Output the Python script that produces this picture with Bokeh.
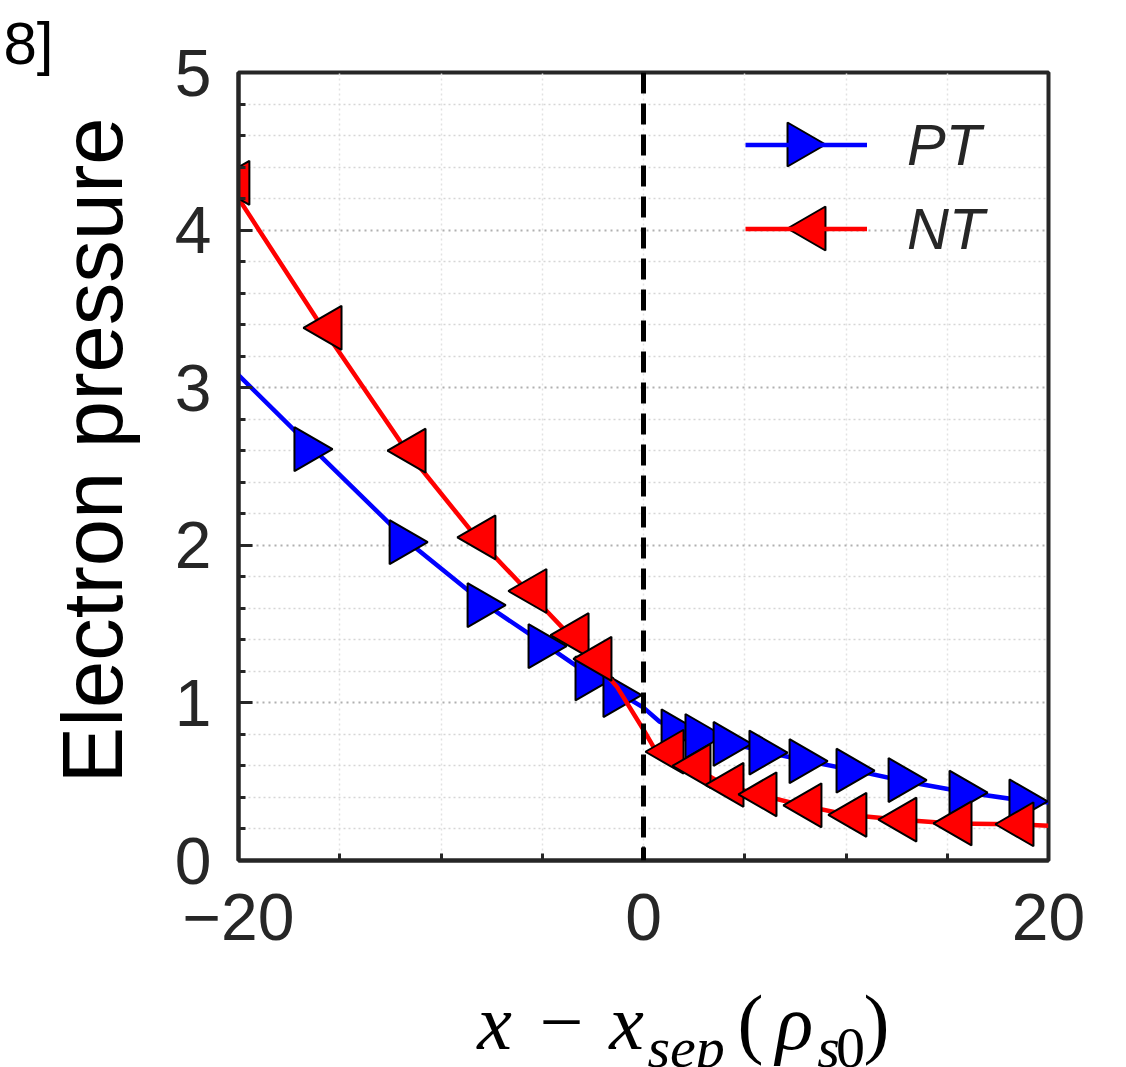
from math import pi
from bokeh.plotting import figure
from bokeh.layouts import column, row
from bokeh.models import (Range1d, FixedTicker, Span, Label, Legend, LegendItem,
                          ColumnDataSource, Title)
from bokeh.transform import dodge
from bokeh.embed import file_html
from bokeh.resources import INLINE

# ---------------- data ----------------
pt_line_x = [-20, -16.3, -11.6, -7.75, -4.74, -2.42, -1.04, 0, 0.8, 1.83, 3.01, 4.40,
             6.17, 8.15, 10.47, 13.04, 16.05, 19.01, 20]
pt_line_y = [3.08, 2.61, 2.02, 1.62, 1.36, 1.155, 1.05, 0.97, 0.88, 0.82, 0.79, 0.74,
             0.685, 0.63, 0.57, 0.50, 0.43, 0.375, 0.37]
pt_mark_x = [-16.3, -11.6, -7.75, -4.74, -2.42, -1.04, 1.83, 3.01, 4.40, 6.17, 8.15,
             10.47, 13.04, 16.05, 19.01]
pt_mark_y = [2.61, 2.02, 1.62, 1.36, 1.155, 1.05, 0.82, 0.79, 0.74, 0.685, 0.63,
             0.57, 0.51, 0.43, 0.375]

nt_line_x = [-20.4, -15.85, -11.7, -8.25, -5.73, -3.65, -2.52, -1.3, 0, 0.5, 1.04, 2.37,
             4.0, 5.63, 7.85, 10.07, 12.54, 15.26, 18.32, 20]
nt_line_y = [4.28, 3.38, 2.60, 2.05, 1.71, 1.43, 1.28, 1.10, 0.83, 0.72, 0.69, 0.60,
             0.48, 0.42, 0.35, 0.29, 0.26, 0.235, 0.23, 0.22]
nt_mark_x = [-20.4, -15.85, -11.7, -8.25, -5.73, -3.65, -2.52, 1.04, 2.37, 4.0, 5.63,
             7.85, 10.07, 12.54, 15.26, 18.32]
nt_mark_y = [4.30, 3.38, 2.60, 2.05, 1.71, 1.43, 1.28, 0.69, 0.60, 0.48, 0.42,
             0.35, 0.29, 0.26, 0.235, 0.23]

series_names = ["PT", "NT"]
x_major = [-20, 0, 20]
x_minor = [-15, -10, -5, 5, 10, 15]
x_labels = {-20: "\u221220", 0: "0", 20: "20"}
y_major = [0, 1, 2, 3, 4, 5]
y_minor = [0.2, 0.4, 0.6, 0.8, 1.2, 1.4, 1.6, 1.8, 2.2, 2.4, 2.6, 2.8,
           3.2, 3.4, 3.6, 3.8, 4.2, 4.4, 4.6, 4.8]
y_title = "Electron pressure"
corner_text = "8]"

# ---------------- layout (pixels of the 1126x1067 page) ----------------
W, H = 1126, 1067
LEFT_W = 150
MAIN_H = 980
L, R, T, B = 238, 1048, 72, 860
XMIN, XMAX, YMIN, YMAX = -20, 20, 0, 5
MID_SANS = 0.41    # em from a "middle" anchor down to the baseline (sans)
MID_SERIF = 0.29   # same for the serif face


def dx(px):
    return XMIN + (px - L) / (R - L) * (XMAX - XMIN)


def dy(py):
    return YMIN + (B - py) / (B - T) * (YMAX - YMIN)


p = figure(width=W - LEFT_W, height=MAIN_H, x_range=Range1d(XMIN, XMAX),
           y_range=Range1d(YMIN, YMAX), output_backend="svg", toolbar_location=None,
           min_border_left=L - LEFT_W, min_border_right=W - R, min_border_top=T,
           min_border_bottom=MAIN_H - B)
p.background_fill_color = "white"
p.border_fill_color = "white"
p.outline_line_color = "#262626"
p.outline_line_width = 4

AX = "#262626"
for ax in (p.xaxis[0], p.yaxis[0]):
    ax.axis_line_color = AX
    ax.axis_line_width = 4
    ax.major_tick_line_color = AX
    ax.minor_tick_line_color = AX
    ax.major_tick_line_width = 3
    ax.minor_tick_line_width = 3
    ax.major_tick_out = 0
    ax.minor_tick_out = 0
    ax.major_label_text_font = "Liberation Sans"
    ax.major_label_text_font_size = "66px"
    ax.major_label_text_color = AX

p.xaxis.ticker = FixedTicker(ticks=x_major, minor_ticks=x_minor)
p.xaxis.major_label_overrides = x_labels
p.xaxis.major_tick_in = 14
p.xaxis.minor_tick_in = 7
p.xaxis.major_label_standoff = 33

p.yaxis.ticker = FixedTicker(ticks=y_major, minor_ticks=y_minor)
p.yaxis.major_tick_in = 14
p.yaxis.minor_tick_in = 7
p.yaxis.major_label_standoff = 27

p.xgrid.grid_line_color = "#e2e2e2"
p.xgrid.grid_line_width = 1.5
p.xgrid.grid_line_dash = "2 3"
p.xgrid.minor_grid_line_color = "#e2e2e2"
p.xgrid.minor_grid_line_width = 1.5
p.xgrid.minor_grid_line_dash = "2 3"
p.ygrid.grid_line_color = "#b0b0b0"
p.ygrid.grid_line_width = 2
p.ygrid.grid_line_dash = "2 4"
p.ygrid.minor_grid_line_color = "#d6d6d6"
p.ygrid.minor_grid_line_width = 1.5
p.ygrid.minor_grid_line_dash = "2 3"

# ---------------- series ----------------
MS = 44
SHIFT = 0.31   # centres the equilateral triangle's box on its point
LW = 4.5
BLUE, RED = "#0000ff", "#ff0000"

r_pt_line = p.line(pt_line_x, pt_line_y, line_color=BLUE, line_width=LW)
p.scatter(x=dodge("x", -SHIFT), y="y",
          source=ColumnDataSource(dict(x=pt_mark_x, y=pt_mark_y)),
          marker="triangle", size=MS, angle=-pi / 2,
          fill_color=BLUE, line_color="black", line_width=2)
r_nt_line = p.line(nt_line_x, nt_line_y, line_color=RED, line_width=LW)
p.scatter(x=dodge("x", SHIFT), y="y",
          source=ColumnDataSource(dict(x=nt_mark_x, y=nt_mark_y)),
          marker="triangle", size=MS, angle=pi / 2,
          fill_color=RED, line_color="black", line_width=2)

p.add_layout(Span(location=0, dimension="height", line_color="black",
                  line_width=5, line_dash="21 10"))

# ---------------- legend ----------------
GH = 105
KEY_CX = 806
rows = [(series_names[0], r_pt_line, 144, BLUE, -pi / 2, -SHIFT),
        (series_names[1], r_nt_line, 228, RED, pi / 2, SHIFT)]
for label, rend, cy, col, ang, sh in rows:
    lg = Legend(items=[LegendItem(label=label, renderers=[rend])],
                location=(745 - L, B - (cy + GH / 2)),
                glyph_width=122, glyph_height=GH, padding=0, margin=0, spacing=0,
                border_line_color=None, background_fill_alpha=0,
                label_standoff=40, label_text_font="Liberation Sans",
                label_text_font_style="italic", label_text_font_size="58px",
                label_text_color="#262626", label_height=GH)
    p.add_layout(lg)
    # legend key marker (Bokeh legends do not rotate markers), drawn above the legend
    p.scatter(x=dodge("x", sh), y="y",
              source=ColumnDataSource(dict(x=[dx(KEY_CX)], y=[dy(cy)])),
              marker="triangle", size=MS, angle=ang, fill_color=col,
              line_color="black", line_width=2, level="overlay")

# ---------------- left strip: y title (its frame is aligned with the plot: T..B) ----------------
corner = Title(text=corner_text, align="left", offset=3, standoff=-10,
               vertical_align="middle",
               text_font="Liberation Sans", text_font_size="60px",
               text_font_style="normal", text_color="black")
left = figure(width=LEFT_W, height=MAIN_H, x_range=Range1d(0, LEFT_W),
              y_range=Range1d(B, T), x_axis_type=None, y_axis_type=None,
              output_backend="svg", toolbar_location=None, min_border=0,
              title=corner)
left.outline_line_color = None
left.background_fill_color = "white"
left.border_fill_color = "white"
YT_FS = 85
left.add_layout(Label(x=127 - MID_SANS * YT_FS, y=450, text=y_title, angle=pi / 2,
                      text_align="center", text_baseline="middle",
                      text_font="Liberation Sans", text_font_size=f"{YT_FS}px",
                      text_color="black"))

# ---------------- bottom strip: x title (page coordinates) ----------------
bottom = figure(width=W, height=H - MAIN_H, x_range=Range1d(0, W),
                y_range=Range1d(H, MAIN_H), x_axis_type=None, y_axis_type=None,
                output_backend="svg", toolbar_location=None, min_border=0, title=None)
bottom.outline_line_color = None
bottom.background_fill_color = "white"
bottom.border_fill_color = "white"

SERIF = "Liberation Serif"
pieces = [  # text, x px, baseline px, size px, style, align
    ("x", 494, 1045, 78, "italic", "center"),
    ("\u2212", 561, 1045, 78, "normal", "center"),
    ("x", 626, 1045, 78, "italic", "center"),
    ("sep", 647, 1064, 58, "italic", "left"),
    ("(", 750, 1045, 78, "normal", "center"),
    ("\u03c1", 794, 1045, 78, "italic", "center"),
    ("s", 828, 1064, 58, "italic", "center"),
    ("0", 850, 1064, 58, "normal", "center"),
    (")", 876, 1045, 78, "normal", "center"),
]
for txt, cx, by, fs, st, al in pieces:
    bottom.add_layout(Label(x=cx, y=by - MID_SERIF * fs, text=txt, text_align=al,
                            text_baseline="middle", text_font=SERIF,
                            text_font_size=f"{fs}px", text_font_style=st,
                            text_color="black"))

layout = column(row(left, p, spacing=0), bottom, spacing=0)
open("out.html", "w").write(file_html(layout, INLINE))
